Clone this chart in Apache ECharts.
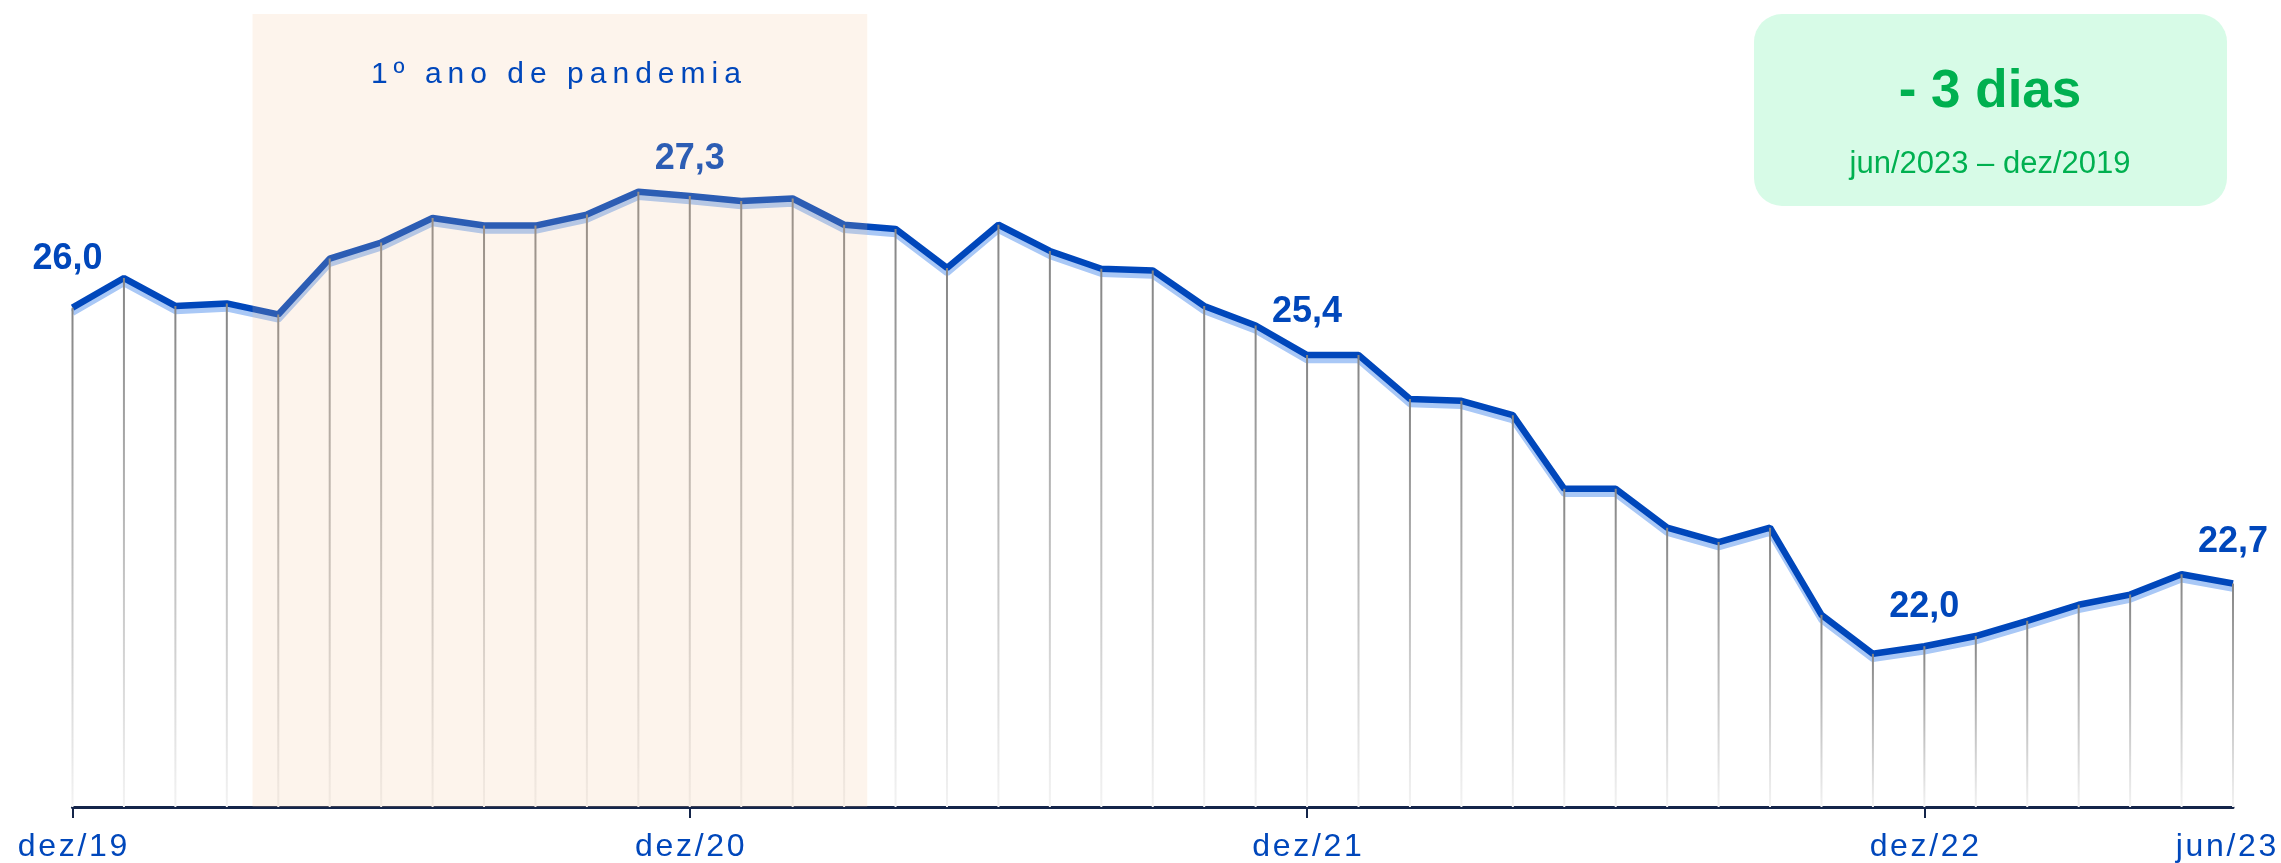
<!DOCTYPE html>
<html>
<head>
<meta charset="utf-8">
<title>Prazo médio</title>
<script src="https://cdn.jsdelivr.net/npm/echarts@6/dist/echarts.min.js"></script>
<style>
html, body { margin: 0; padding: 0; background: #fff; }
#chart { width: 2281px; height: 863px; }
</style>
</head>
<body>
<div id="chart"></div>
<script>
var meses = [
	'dez/19',
	'jan/20', 'fev/20', 'mar/20', 'abr/20', 'mai/20', 'jun/20', 'jul/20', 'ago/20', 'set/20', 'out/20', 'nov/20', 'dez/20',
	'jan/21', 'fev/21', 'mar/21', 'abr/21', 'mai/21', 'jun/21', 'jul/21', 'ago/21', 'set/21', 'out/21', 'nov/21', 'dez/21',
	'jan/22', 'fev/22', 'mar/22', 'abr/22', 'mai/22', 'jun/22', 'jul/22', 'ago/22', 'set/22', 'out/22', 'nov/22', 'dez/22',
	'jan/23', 'fev/23', 'mar/23', 'abr/23', 'mai/23', 'jun/23'
];
var dias = [
	26.0,
	26.35, 26.02, 26.05, 25.92, 26.58, 26.77, 27.06, 26.97, 26.97, 27.10, 27.37, 27.32,
	27.26, 27.29, 26.98, 26.93, 26.47, 26.98, 26.67, 26.46, 26.44, 26.02, 25.79, 25.44,
	25.44, 24.92, 24.90, 24.73, 23.86, 23.86, 23.40, 23.23, 23.40, 22.37, 21.91, 22.0,
	22.12, 22.30, 22.49, 22.61, 22.85, 22.74
];
var rotulados = [0, 12, 24, 36, 42];       // pontos com valor escrito
var marcasEixo = [0, 12, 24, 36];          // dezembros: tick no eixo
var textosEixo = [0, 12, 24, 36, 42];      // rotulos do eixo x
var pandemia = [[3.5, 15.45]];             // abr/20 .. mar/21 (meio mes de folga)
var textoPandemia = '1º ano de pandemia';
var resumo = '- 3 dias';
var periodo = 'jun/2023 – dez/2019';

var yMin = 20.1, yMax = 29.47;
var azul = '#0047bb';
var fonte = 'Liberation Sans, Arial, sans-serif';

// distancia do rotulo ao ponto (so estilo)
var distRotulo = {0: 31, 12: 19, 24: 25, 36: 21, 42: 23};
var offRotulo = {0: -5};

var chart;

window.onload = function() {
	initChart();
};

function espacar(txt, sep) {
	return Array.from(txt).join(sep);
}

function virgula(v) {
	return v.toFixed(1).replace('.', ',');
}

function initChart() {
	chart = echarts.init(document.getElementById('chart'), null, {renderer: 'canvas'});

	var dadosLinha = dias.map(function(v, i) {
		if (rotulados.indexOf(i) < 0) return v;
		return {
			value: v,
			label: {
				show: true,
				distance: distRotulo[i],
				offset: [offRotulo[i] || 0, 0]
			}
		};
	});

	var ultimo = meses.length - 1;

	var option = {
		backgroundColor: '#ffffff',
		animation: false,
		grid: {
			left: 72.5,
			right: 48,
			top: 14,
			bottom: 56,
			containLabel: false,
			outerBoundsMode: 'none'
		},
		xAxis: [{
			type: 'category',
			data: meses,
			boundaryGap: false,
			axisLine: {
				lineStyle: { color: '#14254a', width: 3 }
			},
			axisTick: {
				show: true,
				length: 11,
				interval: function(i) { return marcasEixo.indexOf(i) >= 0; },
				lineStyle: { color: '#14254a', width: 2 }
			},
			axisLabel: {
				interval: function(i) { return textosEixo.indexOf(i) >= 0; },
				formatter: function(v, i) {
					var t = espacar(v, '\u200A');
					// o ultimo rotulo fica um pouco para dentro
					return i === ultimo ? '{fim|' + t + '}' : t;
				},
				rich: {
					fim: {
						color: azul,
						fontFamily: fonte,
						fontSize: 32,
						padding: [0, 14, 0, 0]
					}
				},
				color: azul,
				fontFamily: fonte,
				fontSize: 32,
				margin: 24
			},
			splitLine: { show: false }
		}, {
			type: 'value',
			min: 0,
			max: ultimo,
			show: false
		}],
		yAxis: {
			type: 'value',
			min: yMin,
			max: yMax,
			show: false,
			splitLine: { show: false }
		},
		series: [{
			name: 'dias',
			type: 'line',
			data: dadosLinha,
			z: 2,
			symbol: 'circle',
			symbolSize: 0,
			showSymbol: true,
			itemStyle: { color: 'rgba(0,0,0,0)' },
			lineStyle: {
				color: azul,
				width: 6.5,
				shadowColor: '#a9c8f6',
				shadowBlur: 0,
				shadowOffsetY: 5
			},
			label: {
				show: false,
				position: 'top',
				color: azul,
				fontFamily: fonte,
				fontSize: 36,
				fontWeight: 'bold',
				formatter: function(p) { return virgula(p.value); }
			}
		}, {
			// base invisivel para as linhas de queda partirem do eixo
			name: 'base',
			type: 'bar',
			stack: 'queda',
			barWidth: 2,
			silent: true,
			data: dias.map(function() { return yMin; }),
			itemStyle: { color: 'rgba(0,0,0,0)' }
		}, {
			name: 'queda',
			type: 'bar',
			stack: 'queda',
			barWidth: 2,
			silent: true,
			z: 3,
			data: dias.map(function(v) { return +(v - yMin).toFixed(3); }),
			itemStyle: {
				color: new echarts.graphic.LinearGradient(0, 0, 0, 1, [
					{ offset: 0, color: '#858585' },
					{ offset: 1, color: '#f3f3f3' }
				])
			}
		}, {
			name: 'pandemia',
			type: 'custom',
			xAxisIndex: 1,
			yAxisIndex: 0,
			z: 10,
			silent: true,
			data: pandemia,
			renderItem: function(params, api) {
				var p0 = api.coord([api.value(0), yMax]);
				var p1 = api.coord([api.value(1), yMin]);
				return {
					type: 'group',
					children: [{
						type: 'rect',
						shape: { x: p0[0], y: p0[1], width: p1[0] - p0[0], height: p1[1] - p0[1] },
						style: { fill: 'rgba(244,196,147,0.18)' }
					}, {
						type: 'text',
						x: (p0[0] + p1[0]) / 2 - 4,
						y: p0[1] + 61,
						style: {
							text: espacar(textoPandemia, '\u2009'),
							fill: azul,
							font: '30px ' + fonte,
							align: 'center',
							verticalAlign: 'middle'
						}
					}]
				};
			}
		}],
		graphic: [{
			type: 'rect',
			x: 1754,
			y: 14,
			shape: { width: 473, height: 192, r: 28 },
			style: { fill: '#d7fbe7' },
			z: 20
		}, {
			type: 'text',
			x: 1990,
			y: 92,
			style: {
				text: resumo,
				fill: '#00b050',
				font: 'bold 53px ' + fonte,
				align: 'center',
				verticalAlign: 'middle'
			},
			z: 21
		}, {
			type: 'text',
			x: 1990,
			y: 164,
			style: {
				text: periodo,
				fill: '#00b050',
				font: '31px ' + fonte,
				align: 'center',
				verticalAlign: 'middle'
			},
			z: 21
		}]
	};
	chart.setOption(option);
}
</script>
</body>
</html>
